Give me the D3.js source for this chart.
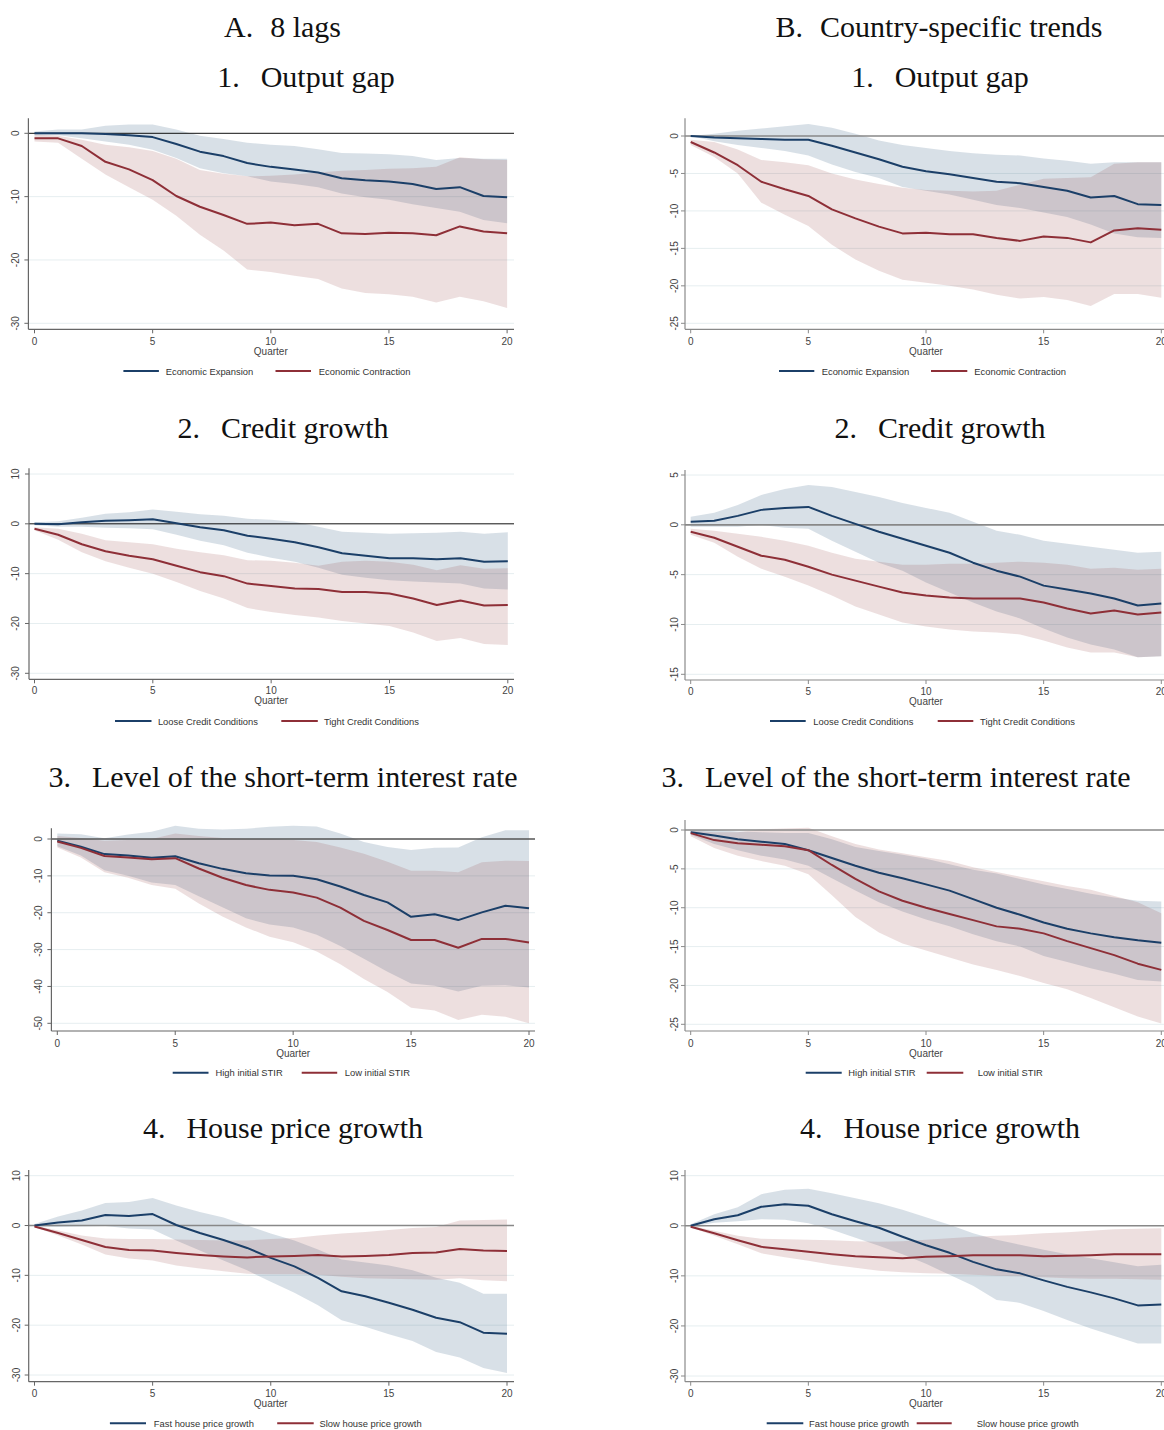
<!DOCTYPE html>
<html>
<head>
<meta charset="utf-8">
<script src="https://cdn.jsdelivr.net/npm/d3@7"></script>
<style>
  body { margin: 0; background: #fff; }
  svg { display: block; }
</style>
</head>
<body>
<svg id="chart" width="1164" height="1430"></svg>
<script>
// Impulse responses over 20 quarters with confidence bands, two regimes per panel.
const quarters = [0,1,2,3,4,5,6,7,8,9,10,11,12,13,14,15,16,17,18,19,20];
const xTicks = [0, 5, 10, 15, 20];

// A1 / B1: output gap
const a1ExpMid = [0,0,0,-0.1,-0.3,-0.6,-1.7,-2.9,-3.6,-4.7,-5.3,-5.7,-6.2,-7.1,-7.4,-7.6,-8.0,-8.8,-8.5,-9.9,-10.1];
const a1ExpHi  = [0.3,0.6,0.6,1.2,1.4,1.4,0.6,-0.4,-0.9,-1.5,-1.8,-2.0,-2.5,-3.1,-3.2,-3.3,-3.6,-4.2,-3.9,-4.0,-4.0];
const a1ExpLo  = [-0.3,-0.3,-0.8,-1.3,-1.8,-2.6,-3.9,-5.5,-6.3,-6.8,-7.6,-8.0,-8.5,-9.5,-10.1,-10.5,-11.2,-11.8,-12.4,-13.7,-14.2];
const a1ConMid = [-0.8,-0.8,-2.0,-4.5,-5.7,-7.4,-9.9,-11.6,-12.9,-14.3,-14.1,-14.5,-14.3,-15.8,-15.9,-15.7,-15.8,-16.1,-14.7,-15.5,-15.8];
const a1ConHi  = [-0.2,-0.4,-1.0,-1.8,-2.2,-2.8,-4.0,-5.8,-6.4,-6.8,-6.7,-6.5,-6.2,-5.9,-5.8,-5.6,-5.5,-5.3,-3.8,-4.1,-4.2];
const a1ConLo  = [-1.3,-1.5,-4.0,-6.5,-8.5,-10.5,-13.0,-16.0,-18.5,-21.5,-21.9,-22.5,-23.0,-24.5,-25.2,-25.4,-25.8,-26.7,-25.8,-26.5,-27.6];

const b1ExpMid = [0,-0.2,-0.3,-0.4,-0.5,-0.5,-1.3,-2.2,-3.1,-4.1,-4.7,-5.1,-5.6,-6.1,-6.3,-6.8,-7.3,-8.2,-8.0,-9.1,-9.2];
const b1ExpHi  = [0,0.3,0.7,1.0,1.3,1.6,1.1,0.3,-0.6,-1.2,-1.6,-2.0,-2.3,-2.5,-2.6,-3.0,-3.3,-3.7,-3.5,-3.5,-3.5];
const b1ExpLo  = [0,-0.7,-1.2,-1.6,-2.0,-2.6,-3.8,-4.8,-5.6,-6.8,-7.3,-7.8,-8.5,-9.2,-9.6,-10.2,-10.8,-11.8,-13.0,-13.5,-13.6];
const b1ConMid = [-0.8,-2.2,-3.9,-6.1,-7.1,-8.0,-9.8,-11.0,-12.1,-13.0,-12.9,-13.1,-13.1,-13.6,-14.0,-13.4,-13.6,-14.2,-12.6,-12.3,-12.5];
const b1ConHi  = [-0.5,-0.8,-1.8,-3.2,-3.5,-3.9,-5.0,-5.8,-6.4,-6.9,-7.2,-7.3,-7.4,-7.3,-6.5,-5.7,-5.6,-5.5,-3.7,-3.5,-3.5];
const b1ConLo  = [-1.2,-2.8,-5.0,-8.9,-10.5,-12.0,-14.5,-16.5,-18.0,-19.2,-19.6,-20.0,-20.5,-21.2,-21.7,-21.5,-21.9,-22.7,-21.1,-21.1,-21.6];

// A2 / B2: credit growth
const a2LooseMid = [0,-0.1,0.3,0.6,0.7,0.9,0.1,-0.7,-1.3,-2.4,-3.0,-3.7,-4.7,-5.9,-6.4,-6.9,-6.9,-7.1,-6.9,-7.6,-7.5];
const a2LooseHi  = [0.3,0.5,1.2,2.0,2.3,2.9,2.4,1.9,1.6,1.0,0.8,0.4,-0.6,-1.6,-1.8,-2.0,-1.9,-1.8,-1.6,-2.0,-1.7];
const a2LooseLo  = [-0.3,-0.6,-0.6,-0.8,-0.9,-1.1,-2.2,-3.4,-4.3,-5.8,-6.8,-7.6,-8.8,-10.2,-10.8,-11.3,-11.6,-11.8,-12.0,-13.0,-13.2];
const a2TightMid = [-1.0,-2.2,-4.1,-5.5,-6.4,-7.1,-8.4,-9.7,-10.5,-12.0,-12.5,-13.0,-13.1,-13.7,-13.7,-14.0,-15.0,-16.3,-15.4,-16.4,-16.3];
const a2TightHi  = [-0.7,-1.0,-2.0,-3.3,-3.7,-4.1,-5.0,-5.7,-6.3,-7.3,-7.4,-7.8,-8.4,-7.6,-7.4,-7.6,-8.2,-9.3,-8.3,-9.0,-8.9];
const a2TightLo  = [-1.3,-3.2,-5.7,-7.5,-8.8,-10.0,-11.7,-13.5,-15.0,-16.9,-17.7,-18.3,-18.8,-19.5,-20.0,-20.5,-21.8,-23.5,-22.9,-24.1,-24.3];

const b2LooseMid = [0.3,0.4,0.9,1.5,1.7,1.8,0.9,0.1,-0.7,-1.4,-2.1,-2.8,-3.8,-4.6,-5.2,-6.1,-6.5,-6.9,-7.4,-8.1,-7.9];
const b2LooseHi  = [0.8,1.2,2.0,3.0,3.6,4.0,3.8,3.3,2.8,2.2,1.7,1.2,0.3,-0.6,-1.0,-1.6,-1.9,-2.2,-2.5,-2.8,-2.7];
const b2LooseLo  = [-0.2,-0.2,-0.2,0.0,-0.3,-0.4,-1.6,-2.7,-3.8,-4.6,-5.8,-6.8,-7.8,-8.7,-9.4,-10.4,-11.3,-12.0,-12.5,-13.3,-13.2];
const b2TightMid = [-0.7,-1.3,-2.2,-3.1,-3.5,-4.2,-5.0,-5.6,-6.2,-6.8,-7.1,-7.3,-7.4,-7.4,-7.4,-7.8,-8.4,-8.9,-8.6,-9.0,-8.8];
const b2TightHi  = [-0.4,-0.6,-0.9,-1.2,-1.6,-2.1,-2.8,-3.4,-3.7,-4.0,-4.0,-3.9,-3.9,-3.8,-3.7,-3.8,-4.0,-4.4,-4.3,-4.5,-4.4];
const b2TightLo  = [-1.0,-1.8,-3.2,-4.4,-5.2,-6.1,-7.1,-8.2,-9.0,-9.8,-10.2,-10.5,-10.7,-10.8,-11.0,-11.6,-12.3,-12.8,-12.8,-13.3,-13.2];

// A3 / B3: level of the short-term interest rate
const a3HighMid = [-0.5,-2.1,-4.1,-4.5,-5.1,-4.7,-6.6,-8.1,-9.3,-9.9,-10.0,-10.9,-12.9,-15.2,-17.2,-21.1,-20.4,-22.0,-19.9,-18.1,-18.8];
const a3HighHi  = [1.5,1.3,0.2,1.2,2.0,3.6,2.8,2.6,2.8,3.3,3.6,3.4,1.5,-0.8,-2.2,-3.0,-2.4,-2.3,0.5,2.4,2.4];
const a3HighLo  = [-2.0,-4.5,-8.5,-10.0,-11.8,-12.5,-15.5,-18.5,-21.5,-23.2,-24.0,-26.0,-29.0,-32.5,-36.0,-39.2,-39.8,-41.4,-39.8,-39.7,-40.3];
const a3LowMid  = [-0.7,-2.4,-4.6,-5.0,-5.5,-5.2,-8.0,-10.5,-12.5,-13.8,-14.5,-15.9,-18.6,-22.2,-24.7,-27.4,-27.4,-29.5,-27.1,-27.1,-28.1];
const a3LowHi   = [0.8,0.3,-0.5,-0.3,0.0,1.5,0.8,0.3,0.1,0.0,-0.3,-0.8,-2.3,-4.0,-6.2,-8.6,-8.6,-9.0,-6.3,-5.9,-6.0];
const a3LowLo   = [-2.3,-5.0,-9.0,-10.5,-12.5,-13.5,-17.5,-21.0,-24.0,-26.5,-28.0,-30.5,-34.0,-38.0,-41.5,-45.8,-46.5,-49.1,-47.7,-48.2,-50.0];

const b3HighMid = [-0.3,-0.7,-1.2,-1.5,-1.8,-2.6,-3.6,-4.6,-5.5,-6.2,-7.0,-7.8,-8.9,-10.0,-10.9,-11.9,-12.7,-13.3,-13.8,-14.2,-14.5];
const b3HighHi  = [0,0,-0.2,-0.3,-0.4,-0.4,-1.2,-2.2,-2.7,-3.2,-3.7,-4.4,-5.1,-5.6,-6.3,-7.0,-7.6,-8.2,-8.7,-9.1,-9.2];
const b3HighLo  = [-0.6,-1.8,-2.6,-3.3,-3.8,-4.6,-6.2,-7.8,-9.3,-10.5,-11.5,-12.4,-13.4,-14.3,-15.0,-16.2,-17.0,-17.8,-18.5,-19.3,-19.5];
const b3LowMid  = [-0.4,-1.3,-1.7,-1.9,-2.1,-2.6,-4.5,-6.3,-7.9,-9.1,-10.0,-10.8,-11.6,-12.4,-12.7,-13.3,-14.3,-15.2,-16.1,-17.2,-18.0];
const b3LowHi   = [-0.1,-0.3,-0.3,0.1,0.2,0.3,-0.8,-1.8,-2.5,-3.0,-3.5,-4.0,-4.8,-5.4,-6.0,-6.6,-7.2,-7.7,-8.5,-9.3,-10.7];
const b3LowLo   = [-0.8,-2.3,-3.3,-4.0,-4.6,-5.7,-8.4,-11.2,-13.2,-14.6,-15.5,-16.4,-17.3,-18.0,-18.8,-19.7,-20.5,-21.6,-22.8,-24.0,-24.9];

// A4 / B4: house price growth
const a4FastMid = [0,0.6,1.0,2.1,1.9,2.3,0.1,-1.5,-2.9,-4.5,-6.5,-8.2,-10.5,-13.2,-14.2,-15.5,-16.9,-18.5,-19.4,-21.5,-21.7];
const a4FastHi  = [0.3,1.8,3.0,4.5,4.7,5.5,4.0,2.7,1.6,0.0,-1.6,-3.0,-4.8,-6.8,-7.4,-8.0,-9.0,-10.5,-11.5,-13.7,-13.7];
const a4FastLo  = [-0.2,-0.3,-0.2,-0.1,-0.6,-0.8,-3.0,-5.0,-7.0,-9.0,-11.3,-13.5,-16.0,-19.0,-20.3,-21.8,-23.2,-25.4,-26.5,-28.6,-29.6];
const a4SlowMid = [-0.2,-1.5,-2.9,-4.3,-4.9,-5.0,-5.5,-5.9,-6.2,-6.4,-6.2,-6.1,-5.9,-6.2,-6.1,-5.9,-5.5,-5.4,-4.7,-5.0,-5.1];
const a4SlowHi  = [0,-1.0,-2.0,-2.6,-2.7,-2.7,-2.8,-2.9,-3.0,-3.0,-2.7,-2.5,-2.0,-1.6,-1.3,-0.9,-0.5,-0.3,1.0,1.1,1.2];
const a4SlowLo  = [-0.3,-2.0,-3.8,-5.8,-6.6,-7.0,-8.0,-8.6,-9.2,-9.7,-9.8,-9.8,-9.9,-10.3,-10.6,-10.7,-10.8,-10.9,-10.6,-11.0,-11.2];

const b4FastMid = [0,1.3,2.1,3.8,4.3,4.0,2.3,0.9,-0.4,-2.2,-3.9,-5.4,-7.2,-8.7,-9.5,-10.9,-12.2,-13.3,-14.5,-15.9,-15.7];
const b4FastHi  = [0.3,2.3,3.7,6.3,7.2,7.4,6.5,5.5,4.5,3.2,1.7,0.2,-1.5,-2.8,-3.8,-4.8,-5.7,-6.5,-7.3,-8.1,-7.8];
const b4FastLo  = [-0.2,0.6,0.9,1.3,1.2,0.5,-0.8,-2.4,-4.0,-5.7,-7.6,-9.8,-12.0,-14.8,-15.4,-17.0,-18.8,-20.5,-22.0,-23.5,-23.5];
const b4SlowMid = [-0.2,-1.5,-2.9,-4.2,-4.7,-5.2,-5.7,-6.1,-6.3,-6.5,-6.2,-6.1,-5.9,-5.9,-5.9,-6.1,-6.0,-5.9,-5.7,-5.7,-5.7];
const b4SlowHi  = [0,-1.0,-2.0,-2.6,-2.7,-2.8,-2.9,-3.1,-3.2,-3.1,-2.8,-2.5,-2.2,-2.0,-1.8,-1.5,-1.3,-1.0,-0.7,-0.6,-0.5];
const b4SlowLo  = [-0.3,-2.0,-3.7,-5.5,-6.3,-7.0,-7.8,-8.4,-9.0,-9.3,-9.5,-9.6,-9.8,-10.0,-10.1,-10.3,-10.5,-10.6,-10.6,-10.7,-10.8];

// Text
const columnTitles = [["A.", "8 lags"], ["B.", "Country-specific trends"]];
const rowTitles = [["1.", "Output gap"], ["2.", "Credit growth"], ["3.", "Level of the short-term interest rate"], ["4.", "House price growth"]];
const legendNames = [
  ["Economic Expansion", "Economic Contraction"],
  ["Loose Credit Conditions", "Tight Credit Conditions"],
  ["High initial STIR", "Low initial STIR"],
  ["Fast house price growth", "Slow house price growth"]
];
const yTicksA = [[0,-10,-20,-30], [10,0,-10,-20,-30], [0,-10,-20,-30,-40,-50], [10,0,-10,-20,-30]];
const yTicksB = [[0,-5,-10,-15,-20,-25], [5,0,-5,-10,-15], [0,-5,-10,-15,-20,-25], [10,0,-10,-20,-30]];
const xTitle = "Quarter";

const seriesData = [
  [[a1ExpMid,a1ExpLo,a1ExpHi],[a1ConMid,a1ConLo,a1ConHi]],
  [[a2LooseMid,a2LooseLo,a2LooseHi],[a2TightMid,a2TightLo,a2TightHi]],
  [[a3HighMid,a3HighLo,a3HighHi],[a3LowMid,a3LowLo,a3LowHi]],
  [[a4FastMid,a4FastLo,a4FastHi],[a4SlowMid,a4SlowLo,a4SlowHi]],
  [[b1ExpMid,b1ExpLo,b1ExpHi],[b1ConMid,b1ConLo,b1ConHi]],
  [[b2LooseMid,b2LooseLo,b2LooseHi],[b2TightMid,b2TightLo,b2TightHi]],
  [[b3HighMid,b3HighLo,b3HighHi],[b3LowMid,b3LowLo,b3LowHi]],
  [[b4FastMid,b4FastLo,b4FastHi],[b4SlowMid,b4SlowLo,b4SlowHi]]
];

// Panel geometry
const layout = [
  {row:0, col:0, L:28.4, R:514, T:118.3, B:329.3, x:[34.5,507.1], yd:[-30,0], yr:[323.3,133.3], yLab:15.2, tickY:341.7, legY:371,
   leg:[123.4,158.9,165.7,275.5,311,318.8], zero:"#111", zeroW:1, title:306},
  {row:1, col:0, L:29, R:514, T:468.3, B:679.3, x:[34.5,507.8], yd:[-30,10], yr:[673.3,474], yLab:15.2, tickY:690, legY:721,
   leg:[115,151.5,157.9,281.3,317.8,323.9], zero:"#111", zeroW:1, title:283},
  {row:2, col:0, L:51.4, R:535, T:828.3, B:1031, x:[57.3,529], yd:[-50,0], yr:[1023.3,839], yLab:38.2, tickY:1043.3, legY:1072.7,
   leg:[172.7,208.5,215.5,301.7,337.2,344.8], zero:"#555", zeroW:1.4, title:283},
  {row:3, col:0, L:28.7, R:514, T:1170, B:1381.7, x:[34.5,507], yd:[-30,10], yr:[1375,1175.7], yLab:16.2, tickY:1393.3, legY:1423.3,
   leg:[109.9,146,153.8,277.2,313.7,319.5], zero:"#888", zeroW:1.6, title:283},
  {row:0, col:1, L:685, R:1170, T:118.3, B:329.3, x:[690.7,1161.3], yd:[-25,0], yr:[323.3,136], yLab:674, tickY:341.7, legY:371,
   leg:[779,814.3,821.7,931,967.3,974.3], zero:"#888", zeroW:1.6, title:940},
  {row:1, col:1, L:685, R:1170, T:470, B:680, x:[690.7,1161.3], yd:[-15,5], yr:[674.3,475], yLab:674, tickY:691.7, legY:721,
   leg:[770,805.7,813.3,937.7,973.3,980], zero:"#888", zeroW:1.6, title:940},
  {row:2, col:1, L:685, R:1170, T:820, B:1031, x:[690.7,1161.3], yd:[-25,0], yr:[1024.3,830], yLab:674, tickY:1043.3, legY:1072.7,
   leg:[805.7,841.7,848.3,926.7,963.3,977.7], zero:"#888", zeroW:1.6, title:896},
  {row:3, col:1, L:685, R:1170, T:1170, B:1381.7, x:[690.7,1161.3], yd:[-30,10], yr:[1376,1175.7], yLab:674, tickY:1393.3, legY:1423.3,
   leg:[766.7,803.3,809,916.7,951.7,976.7], zero:"#888", zeroW:1.6, title:940}
];
const rowTitleY = [86.7, 437.5, 787, 1137.5];
const colTitleX = [282.5, 939];

const colors = { blue: "#1b3f68", red: "#8e2f37", blueBand: "#1a476f", redBand: "#90353b" };
const sansFont = "'Liberation Sans', Arial, Helvetica, sans-serif";
const serifFont = "'Liberation Serif', 'Times New Roman', serif";
const titleSize = 30;

const svg = d3.select("#chart");
svg.append("rect").attr("width", 1164).attr("height", 1430).attr("fill", "#fff");

// Column headings
columnTitles.forEach((t, i) => {
  const txt = svg.append("text").attr("x", colTitleX[i]).attr("y", 37.3)
    .attr("text-anchor", "middle").attr("font-family", serifFont).attr("font-size", titleSize).attr("fill", "#111");
  txt.append("tspan").text(t[0]);
  txt.append("tspan").attr("dx", 17).text(t[1]);
});

layout.forEach((p, k) => {
  const g = svg.append("g");
  const x = d3.scaleLinear().domain([0, 20]).range(p.x);
  const y = d3.scaleLinear().domain(p.yd).range(p.yr);
  const yTicks = p.col === 0 ? yTicksA[p.row] : yTicksB[p.row];
  const names = legendNames[p.row];
  const data = seriesData[k];

  // Panel heading
  const rt = rowTitles[p.row];
  const tt = g.append("text").attr("x", p.title).attr("y", rowTitleY[p.row])
    .attr("text-anchor", "middle").attr("font-family", serifFont).attr("font-size", titleSize).attr("fill", "#111");
  tt.append("tspan").text(rt[0]);
  tt.append("tspan").attr("dx", 21).text(rt[1]);

  // Light gridlines
  g.selectAll(".grid").data(yTicks.filter(v => v !== 0)).enter().append("line")
    .attr("x1", p.L).attr("x2", p.R).attr("y1", d => y(d)).attr("y2", d => y(d))
    .attr("stroke", "#e6eef0").attr("stroke-width", 1);

  // Confidence bands
  const area = d3.area().x((d, i) => x(quarters[i])).y0(d => y(d[0])).y1(d => y(d[1]));
  const bandColors = [colors.blueBand, colors.redBand];
  data.forEach((s, j) => {
    const pts = quarters.map((q, i) => [s[1][i], s[2][i]]);
    g.append("path").attr("d", area(pts)).attr("fill", bandColors[j]).attr("fill-opacity", j === 0 ? 0.17 : 0.16);
  });

  // Zero reference line
  g.append("line").attr("x1", p.L).attr("x2", p.R).attr("y1", y(0)).attr("y2", y(0))
    .attr("stroke", p.zero).attr("stroke-width", p.zeroW);

  // Point estimates
  const line = d3.line().x((d, i) => x(quarters[i])).y(d => y(d));
  const lineColors = [colors.blue, colors.red];
  data.forEach((s, j) => {
    g.append("path").attr("d", line(s[0])).attr("fill", "none")
      .attr("stroke", lineColors[j]).attr("stroke-width", 2).attr("stroke-linejoin", "round");
  });

  // Axes
  const axisColor = p.col === 0 ? "#666" : "#8a8a8a";
  g.append("line").attr("x1", p.L).attr("x2", p.L).attr("y1", p.T).attr("y2", p.B).attr("stroke", axisColor).attr("stroke-width", 1.2);
  g.append("line").attr("x1", p.L).attr("x2", p.R).attr("y1", p.B).attr("y2", p.B).attr("stroke", axisColor).attr("stroke-width", 1.2);

  yTicks.forEach(v => {
    g.append("line").attr("x1", p.L - 4).attr("x2", p.L).attr("y1", y(v)).attr("y2", y(v)).attr("stroke", axisColor);
    g.append("text").attr("transform", `translate(${p.yLab},${y(v)}) rotate(-90)`)
      .attr("text-anchor", "middle").attr("dominant-baseline", "central")
      .attr("font-family", sansFont).attr("font-size", 10).attr("fill", "#444").text(String(v));
  });
  xTicks.forEach(v => {
    g.append("line").attr("x1", x(v)).attr("x2", x(v)).attr("y1", p.B).attr("y2", p.B + 4).attr("stroke", axisColor);
    g.append("text").attr("x", x(v)).attr("y", p.tickY).attr("text-anchor", "middle").attr("dominant-baseline", "central")
      .attr("font-family", sansFont).attr("font-size", 10).attr("fill", "#444").text(String(v));
  });
  g.append("text").attr("x", x(10)).attr("y", p.tickY + 10).attr("text-anchor", "middle").attr("dominant-baseline", "central")
    .attr("font-family", sansFont).attr("font-size", 10).attr("fill", "#444").text(xTitle);

  // Legend
  [0, 1].forEach(j => {
    const o = j * 3;
    g.append("line").attr("x1", p.leg[o]).attr("x2", p.leg[o + 1]).attr("y1", p.legY).attr("y2", p.legY)
      .attr("stroke", lineColors[j]).attr("stroke-width", 2);
    g.append("text").attr("x", p.leg[o + 2]).attr("y", p.legY).attr("dominant-baseline", "central")
      .attr("font-family", sansFont).attr("font-size", 9.4).attr("fill", "#333").text(names[j]);
  });
});
</script>
</body>
</html>
